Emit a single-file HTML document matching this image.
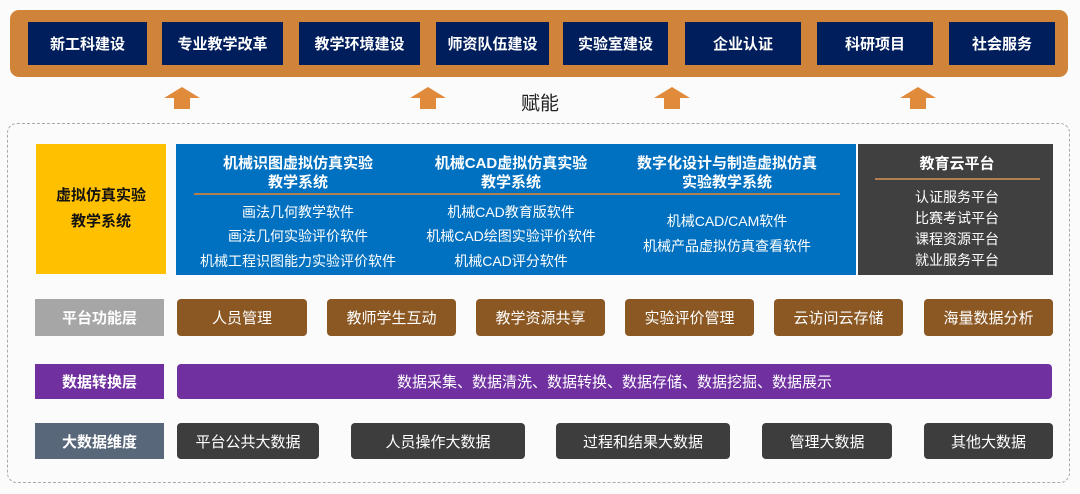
<!DOCTYPE html>
<html><head><meta charset="utf-8"><style>
*{margin:0;padding:0;box-sizing:border-box}
body{width:1080px;height:494px;background:#fbfbfb;position:relative;overflow:hidden;font-family:"Liberation Sans","Noto Sans CJK SC",sans-serif}
.a{position:absolute}
.c{display:flex;align-items:center;justify-content:center;color:#fff;text-align:center}
.tb{background:#001e5c;font-weight:bold;font-size:15px;top:22px;height:43px}
.t{position:absolute;transform:translate(-50%,-50%);white-space:nowrap;color:#fff}
.h{font-weight:bold;font-size:15px}
.i{font-size:14px}
.arr{position:absolute;top:87px;width:36px;height:22px}
.br{background:#8b5722;border-radius:4px;top:299px;height:37px;font-size:15px}
.dk{background:#3d3d3d;border-radius:4px;top:423px;height:36px;font-size:15px}
.lb{left:35px;width:129px;font-weight:bold;font-size:15px}
</style></head><body>
<div class="a" style="left:10px;top:10px;width:1058px;height:67px;background:#d0843a;border-radius:9px"></div>
<div class="a c tb" style="left:28px;width:119px">新工科建设</div>
<div class="a c tb" style="left:162px;width:121px">专业教学改革</div>
<div class="a c tb" style="left:299px;width:121px">教学环境建设</div>
<div class="a c tb" style="left:436px;width:113px">师资队伍建设</div>
<div class="a c tb" style="left:563px;width:105px">实验室建设</div>
<div class="a c tb" style="left:685px;width:116px">企业认证</div>
<div class="a c tb" style="left:817px;width:116px">科研项目</div>
<div class="a c tb" style="left:949px;width:106px">社会服务</div>
<svg class="arr" style="left:164px" viewBox="0 0 36 22"><polygon points="18,0 36,11 26,11 26,22 10,22 10,11 0,11" fill="#e08a3c"/></svg>
<svg class="arr" style="left:410px" viewBox="0 0 36 22"><polygon points="18,0 36,11 26,11 26,22 10,22 10,11 0,11" fill="#e08a3c"/></svg>
<svg class="arr" style="left:654px" viewBox="0 0 36 22"><polygon points="18,0 36,11 26,11 26,22 10,22 10,11 0,11" fill="#e08a3c"/></svg>
<svg class="arr" style="left:900px" viewBox="0 0 36 22"><polygon points="18,0 36,11 26,11 26,22 10,22 10,11 0,11" fill="#e08a3c"/></svg>
<div class="t" style="left:540px;top:102px;color:#222;font-size:19px">赋能</div>
<div class="a" style="left:7px;top:123px;width:1063px;height:360px;border:1.5px dashed #aaa;border-radius:10px"></div>
<div class="a c" style="left:36px;top:144px;width:130px;height:130px;background:#ffc000;color:#111;font-weight:bold;font-size:15px;line-height:26px">虚拟仿真实验<br>教学系统</div>
<div class="a" style="left:176px;top:144px;width:680px;height:131px;background:#0070c0"></div>
<div class="a" style="left:194px;top:193px;width:646px;height:2px;background:#b08050"></div>
<div class="t h" style="left:298px;top:173px;line-height:19px;text-align:center">机械识图虚拟仿真实验<br>教学系统</div>
<div class="t h" style="left:511px;top:173px;line-height:19px;text-align:center">机械CAD虚拟仿真实验<br>教学系统</div>
<div class="t h" style="left:727px;top:173px;line-height:19px;text-align:center">数字化设计与制造虚拟仿真<br>实验教学系统</div>
<div class="t i" style="left:298px;top:212px">画法几何教学软件</div>
<div class="t i" style="left:298px;top:236px">画法几何实验评价软件</div>
<div class="t i" style="left:298px;top:261px">机械工程识图能力实验评价软件</div>
<div class="t i" style="left:511px;top:212px">机械CAD教育版软件</div>
<div class="t i" style="left:511px;top:236px">机械CAD绘图实验评价软件</div>
<div class="t i" style="left:511px;top:261px">机械CAD评分软件</div>
<div class="t i" style="left:727px;top:221px">机械CAD/CAM软件</div>
<div class="t i" style="left:727px;top:246px">机械产品虚拟仿真查看软件</div>
<div class="a" style="left:858px;top:144px;width:195px;height:131px;background:#404040"></div>
<div class="a" style="left:875px;top:178px;width:165px;height:1.5px;background:#b08050"></div>
<div class="t h" style="left:957px;top:163px">教育云平台</div>
<div class="t i" style="left:957px;top:197px">认证服务平台</div>
<div class="t i" style="left:957px;top:218px">比赛考试平台</div>
<div class="t i" style="left:957px;top:239px">课程资源平台</div>
<div class="t i" style="left:957px;top:260px">就业服务平台</div>
<div class="a c lb" style="top:299px;height:37px;background:#a6a6a6">平台功能层</div>
<div class="a c br" style="left:177px;width:130px">人员管理</div>
<div class="a c br" style="left:327px;width:129px">教师学生互动</div>
<div class="a c br" style="left:476px;width:129px">教学资源共享</div>
<div class="a c br" style="left:625px;width:129px">实验评价管理</div>
<div class="a c br" style="left:774px;width:129px">云访问云存储</div>
<div class="a c br" style="left:924px;width:129px">海量数据分析</div>
<div class="a c lb" style="top:364px;height:35px;background:#7030a0">数据转换层</div>
<div class="a c" style="left:177px;top:364px;width:875px;height:35px;background:#7030a0;border-radius:4px;font-size:15px">数据采集、数据清洗、数据转换、数据存储、数据挖掘、数据展示</div>
<div class="a c lb" style="top:423px;height:36px;background:#586779">大数据维度</div>
<div class="a c dk" style="left:177px;width:142px">平台公共大数据</div>
<div class="a c dk" style="left:351px;width:174px">人员操作大数据</div>
<div class="a c dk" style="left:556px;width:174px">过程和结果大数据</div>
<div class="a c dk" style="left:762px;width:130px">管理大数据</div>
<div class="a c dk" style="left:924px;width:129px">其他大数据</div>
</body></html>
